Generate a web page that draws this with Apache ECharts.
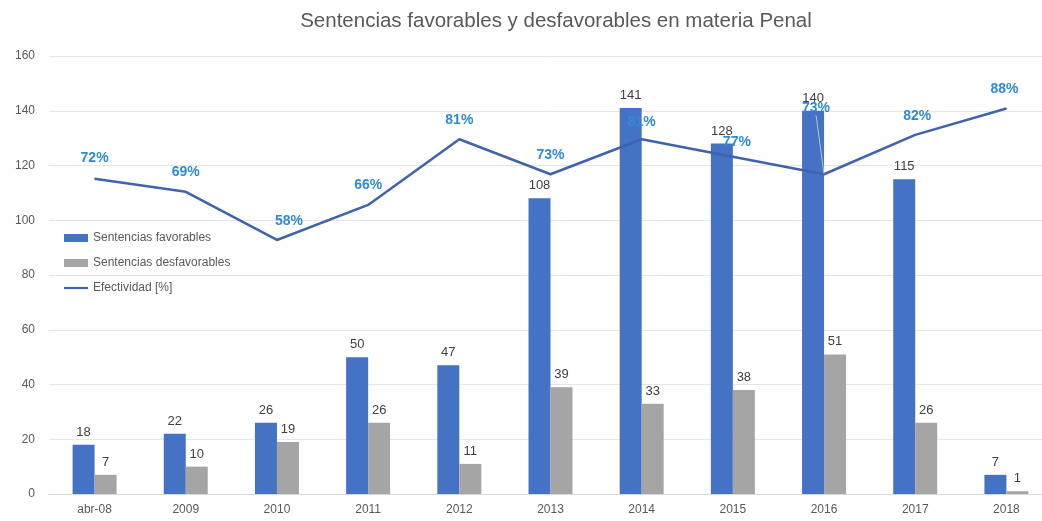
<!DOCTYPE html>
<html><head><meta charset="utf-8">
<script src="https://cdn.jsdelivr.net/npm/echarts@6/dist/echarts.min.js"></script>
<style>html,body{margin:0;padding:0;background:#fff;overflow:hidden}#c{width:1052px;height:521px}</style>
</head><body><div id="c"></div>
<script>
const categories = ['abr-08','2009','2010','2011','2012','2013','2014','2015','2016','2017','2018'];
const favorables = [18,22,26,50,47,108,141,128,140,115,7];
const desfavorables = [7,10,19,26,11,39,33,38,51,26,1];
const efectividad = [72,69,58,66,81,73,81,77,73,82,88];
const yTicks = [0,20,40,60,80,100,120,140,160];

const font = 'Liberation Sans, Arial, sans-serif';
const chart = echarts.init(document.getElementById('c'));
const labelDx = [0,0,12,0,0,0,0,4,-8,2,-2];
const labelDy = [-20,-20,-19,-20,-19,-19,-17,-15,-66,-19,-19];
const lineData = efectividad.map((v,i)=> i===8 ? {value:v,labelLine:{show:true}} : v);
chart.setOption({
  animation:false,
  title:{text:'Sentencias favorables y desfavorables en materia Penal',left:551,top:6,textAlign:'center',
    textStyle:{color:'#595959',fontSize:20.5,fontWeight:'normal',fontFamily:font}},
  legend:{orient:'vertical',left:59,top:227,itemGap:13,itemWidth:24,itemHeight:8,
    textStyle:{color:'#595959',fontSize:12,fontFamily:font},
    data:[{name:'Sentencias favorables',icon:'rect'},{name:'Sentencias desfavorables',icon:'rect'},
      {name:'Efectividad [%]',icon:'path://M0,4 L22,4 L22,6 L0,6 Z',itemStyle:{color:'#3F63AE',opacity:1}}]},
  grid:{left:49,top:56,bottom:27,right:0},
  xAxis:{type:'category',data:categories,axisTick:{show:false},
    axisLine:{lineStyle:{color:'#d9d9d9'}},
    axisLabel:{color:'#595959',fontSize:12,fontFamily:font,margin:10}},
  yAxis:[{type:'value',min:0,max:160,interval:20,
    axisLabel:{color:'#595959',fontSize:12,fontFamily:font,margin:14,
      formatter:v=>yTicks.includes(v)?String(v):''},
    splitLine:{lineStyle:{color:'#e6e6e6'}}},
    {type:'value',min:0,max:100,show:false,splitLine:{show:false}}],
  series:[
    {name:'Sentencias favorables',type:'bar',data:favorables,barWidth:22,barGap:'0%',
      itemStyle:{color:'#4472C4'},
      label:{show:true,position:'top',color:'#404040',fontSize:13,fontFamily:font,distance:6}},
    {name:'Sentencias desfavorables',type:'bar',data:desfavorables,barWidth:22,
      itemStyle:{color:'#A5A5A5'},
      label:{show:true,position:'top',color:'#404040',fontSize:13,fontFamily:font,distance:6}},
    {name:'Efectividad [%]',type:'line',yAxisIndex:1,data:lineData,symbol:'circle',symbolSize:1,showSymbol:true,z:5,
      lineStyle:{color:'#3F63AE',width:2.5},itemStyle:{color:'#3F63AE'},
      label:{show:true,position:'inside',formatter:p=>p.value+'%',color:'#2E8BD8',fontSize:14,fontWeight:'bold',fontFamily:font},
      labelLayout:function(p){return {dx:labelDx[p.dataIndex],dy:labelDy[p.dataIndex]};},
      labelLine:{show:false,lineStyle:{color:'#bfbfbf',width:1},minTurnAngle:0}}
  ]
});
</script></body></html>
